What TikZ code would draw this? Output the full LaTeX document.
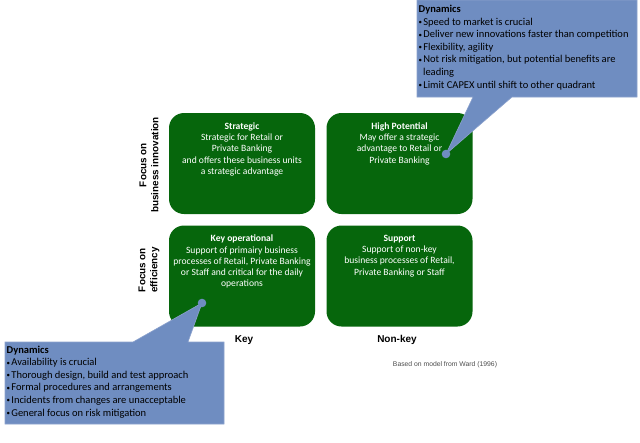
\documentclass[tikz,border=0pt]{standalone}
\usepackage{fontspec}
\setmainfont{Carlito}
\newfontfamily\arialfont{Liberation Sans}
\definecolor{quadgreen}{RGB}{6,102,12}
\definecolor{callblue}{RGB}{111,141,193}
\definecolor{callline}{RGB}{140,162,205}
\newcommand{\bul}{{\fontsize{7}{7}\selectfont\raisebox{0.6pt}{•}}\hspace{1.2pt}}
\begin{document}
\begin{tikzpicture}[x=1pt,y=-1pt]
	\tikzstyle{quad}=[rectangle,rounded corners=15pt,fill=quadgreen,text=white,inner sep=0pt,font=\fontsize{9.6}{11.3}\selectfont]
	\tikzstyle{callout}=[fill=callblue,draw=callline,line width=0.6pt]
	\tikzstyle{dyn}=[anchor=north west,inner sep=2.5pt,align=left,font=\fontsize{10.5}{12.6}\selectfont]
	\tikzstyle{axis}=[align=center,font=\arialfont\bfseries\fontsize{9.9}{12}\selectfont]
	\useasboundingbox (0,0) rectangle (640,442);
	\begin{scope}
		% the four quadrants
		\node [quad] (q1) at (242,163.5) {\parbox[c][101pt][t]{146pt}{\centering\vspace*{9.5pt}\textbf{Strategic}\\Strategic for Retail or\\Private Banking\\and offers these business units\\a strategic advantage}};
		\node [quad] (q2) at (399.5,163.5) {\parbox[c][101pt][t]{146pt}{\centering\vspace*{9.5pt}\textbf{High Potential}\\May offer a strategic\\advantage to Retail or\\Private Banking}};
		\node [quad] (q3) at (242,276) {\parbox[c][101pt][t]{146pt}{\centering\vspace*{9.5pt}\textbf{Key operational}\\Support of primairy business\\processes of Retail,\ Private Banking\\or Staff and critical for the daily\\operations}};
		\node [quad] (q4) at (399.5,276) {\parbox[c][101pt][t]{146pt}{\centering\vspace*{9.5pt}\textbf{Support}\\Support of non-key\\business processes of Retail,\\Private Banking or Staff}};
		% axis labels
		\node [axis,rotate=90] (yl1) at (149,165) {Focus on\\business innovation};
		\node [axis,rotate=90] (yl2) at (149,270) {Focus on\\efficiency};
		\node [axis,font=\arialfont\bfseries\fontsize{10}{12}\selectfont] (xl1) at (244,340) {Key};
		\node [axis,font=\arialfont\bfseries\fontsize{10}{12}\selectfont] (xl2) at (397,340) {Non-key};
		\node [text=black!70,font=\arialfont\fontsize{6.8}{8}\selectfont] (src) at (445,365) {Based on model from Ward (1996)};
	\end{scope}
	\begin{scope}
		% callouts
		\path[callout] (417,0) -- (637,0) -- (637,97) -- (512,97) -- (446,154) -- (473,97) -- (417,97) -- cycle;
		\fill[callblue] (446,154) circle (4.3pt);
		\node [dyn] (c1) at (416,2.5) {\textbf{Dynamics}\\\bul Speed to market is crucial\\\bul Deliver new innovations faster\ than competition\\\bul Flexibility, agility\\\bul Not\ risk mitigation, but potential benefits\ are\\\hspace*{4.4pt}leading\\\bul Limit CAPEX until shift to other quadrant};
		\path[callout] (5,342) -- (133,342) -- (202,303) -- (188,342) -- (224,342) -- (224,424) -- (5,424) -- cycle;
		\fill[callblue] (202,303) circle (4.3pt);
		\node [dyn] (c2) at (4,343) {\textbf{Dynamics}\\\bul Availability is crucial\\\bul Thorough design, build and test approach\\\bul Formal procedures\ and arrangements\\\bul Incidents from changes are unacceptable\\\bul General focus on risk mitigation};
	\end{scope}
\end{tikzpicture}
\end{document}
